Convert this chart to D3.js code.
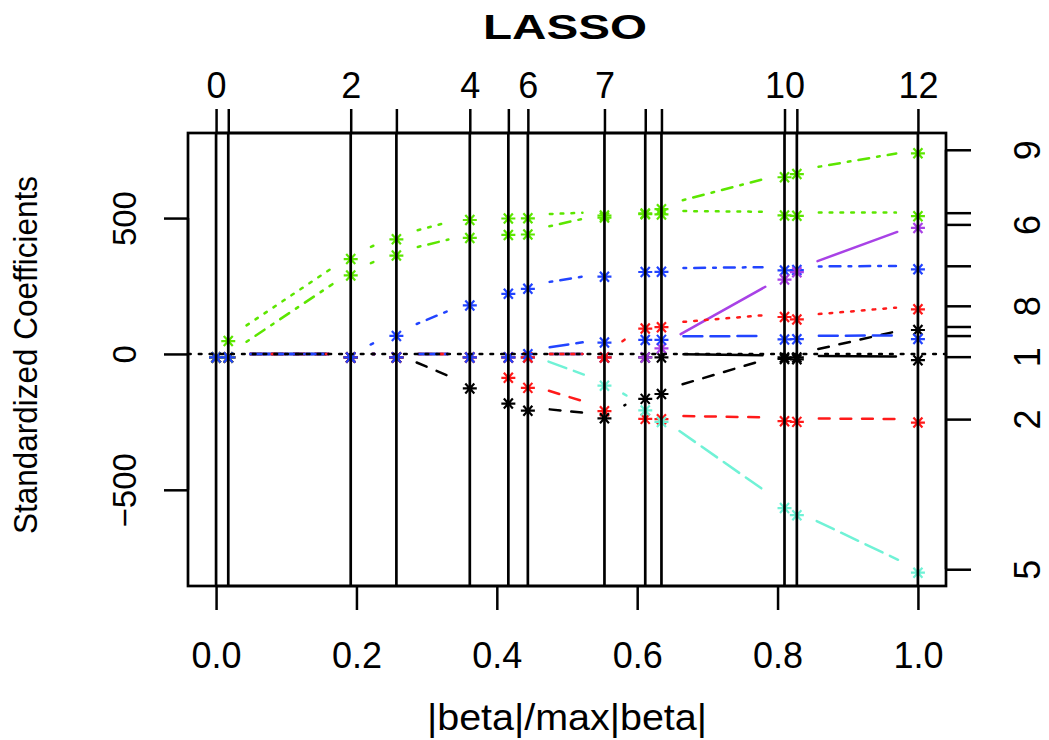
<!DOCTYPE html>
<html>
<head>
<meta charset="utf-8">
<script src="https://cdn.jsdelivr.net/npm/d3@7"></script>
<style>
  body { margin: 0; background: #fff; }
  text { font-family: "Liberation Sans", Arial, sans-serif; fill: #000; }
</style>
</head>
<body>
<svg id="chart" width="1049" height="740"></svg>
<script>
// lasso path, one array per variable (coefficient at each step)
const varNames = ["age", "sex", "bmi", "map", "tc", "ldl", "hdl", "tch", "ltg", "glu"];
const age = [0, 0, 0, 0, 0, 0, 0, 0, 0, 0, -5.7, -7.0, -10.0];
const sex = [0, 0, 0, 0, 0, -74.9, -112.0, -197.8, -226.1, -227.2, -234.4, -237.1, -239.8];
const bmi = [0, 60.1, 361.9, 434.8, 505.7, 511.3, 512.0, 522.3, 526.9, 526.4, 522.6, 521.1, 519.8];
const mapBp = [0, 0, 0, 79.2, 191.3, 234.2, 252.5, 297.2, 314.4, 315.0, 320.3, 321.5, 324.4];
const tc  = [0, 0, 0, 0, 0, 0, 0, -103.9, -195.1, -237.3, -554.3, -580.4, -792.2];
const ldl = [0, 0, 0, 0, 0, 0, 0, 0, 0, 33.6, 286.7, 313.9, 476.7];
const hdl = [0, 0, 0, 0, -114.1, -169.7, -196.0, -223.9, -152.5, -134.6, 0, 0, 101.0];
const tch = [0, 0, 0, 0, 0, 0, 0, 0, 106.3, 111.4, 148.9, 139.9, 177.1];
const ltg = [0, 0, 301.8, 374.9, 439.7, 450.7, 452.4, 514.7, 529.9, 545.5, 663.0, 674.9, 751.3];
const glu = [0, 0, 0, 0, 0, 0, 12.1, 54.8, 64.5, 64.6, 66.3, 67.2, 67.6];
const coefs = [age, sex, bmi, mapBp, tc, ldl, hdl, tch, ltg, glu];

// top axis: step labels (R drops the ones that would overlap)
const topLabels = ["0", "", "2", "", "4", "", "6", "7", "", "", "10", "", "12"];
// right axis: variable numbers shown at the final coefficients
const rightLabels = ["1", "2", "", "", "5", "6", "", "8", "9", ""];
const xTicks = [0, 0.2, 0.4, 0.6, 0.8, 1.0];
const yTicks = [-500, 0, 500];

// |beta| / max|beta| for every step
const l1 = d3.range(age.length).map(i => d3.sum(coefs, c => Math.abs(c[i])));
const s = l1.map(v => v / l1[l1.length - 1]);

const svg = d3.select("#chart");
const plotL = 188, plotR = 946, plotT = 133, plotB = 586;

// R style 4% padding
const xr = d3.extent(s), yr = [d3.min(coefs, c => d3.min(c)), d3.max(coefs, c => d3.max(c))];
const xpad = (xr[1] - xr[0]) * 0.04, ypad = (yr[1] - yr[0]) * 0.04;
const x = d3.scaleLinear().domain([xr[0] - xpad, xr[1] + xpad]).range([plotL, plotR]);
const y = d3.scaleLinear().domain([yr[0] - ypad, yr[1] + ypad]).range([plotB, plotT]);

const palette = ["#000000", "#ff1a1a", "#5ce600", "#2244ff", "#70f2d6", "#a842e6"];
const u = 2.7; // dash unit
const ltys = [null, [4, 4], [1, 3], [1, 3, 4, 3], [7, 3]];

// round caps eat into the gaps, like the R device does
function dashes(lty, w) {
    if (!lty) return null;
    return lty.map((v, i) => i % 2 === 0 ? Math.max(v * u - w, 0.01) : v * u + w).join(" ");
}

const plot = svg.append("g");
const gap = 22;
const lw = 2.5;

coefs.forEach((c, j) => {
    const col = palette[j % 6];
    const lty = ltys[j % 5];
    const g = plot.append("g");
    // type = "b": segments are cut back near every point
    for (let i = 1; i < c.length; i++) {
        const x0 = x(s[i - 1]), y0 = y(c[i - 1]), x1 = x(s[i]), y1 = y(c[i]);
        const len = Math.hypot(x1 - x0, y1 - y0);
        if (len <= 2 * gap) continue;
        const dx = gap * (x1 - x0) / len, dy = gap * (y1 - y0) / len;
        g.append("line")
            .attr("x1", x0 + dx).attr("y1", y0 + dy)
            .attr("x2", x1 - dx).attr("y2", y1 - dy)
            .attr("stroke", col)
            .attr("stroke-width", lw)
            .attr("stroke-linecap", "round")
            .attr("stroke-dasharray", dashes(lty, 0));
    }
    g.selectAll("path")
        .data(c)
        .enter()
        .append("path")
        .attr("transform", (d, i) => `translate(${x(s[i])},${y(d) + 3.5})`)
        .attr("d", "M-7,0H7M-4.5,-5L4.5,5M4.5,-5L-4.5,5")
        .attr("stroke", col)
        .attr("stroke-width", 2.2)
        .attr("fill", "none");
});

// zero line
plot.append("line")
    .attr("x1", plotL).attr("x2", plotR)
    .attr("y1", y(0)).attr("y2", y(0))
    .attr("stroke", "#000")
    .attr("stroke-width", lw)
    .attr("stroke-linecap", "round")
    .attr("stroke-dasharray", dashes([1, 3], 0));

// axes
function rAxis(axis, sel, first, last, vertical) {
    sel.call(axis);
    sel.select(".domain").remove();
    sel.selectAll(".tick line").attr("stroke", "#000").attr("stroke-width", 2.5);
    sel.append("line")
        .attr(vertical ? "y1" : "x1", first)
        .attr(vertical ? "y2" : "x2", last)
        .attr("stroke", "#000")
        .attr("stroke-width", 2.5);
    sel.attr("font-family", null).attr("font-size", null);
}

const gBottom = svg.append("g").attr("transform", `translate(0,${plotB})`);
rAxis(d3.axisBottom(x).tickValues(xTicks).tickSize(24).tickFormat(d3.format(".1f")),
    gBottom, x(0), x(1), false);
gBottom.selectAll(".tick text").attr("y", 82).attr("dy", null).attr("font-size", 36);

const gTop = svg.append("g").attr("transform", `translate(0,${plotT})`);
rAxis(d3.axisTop(x).tickValues(s).tickSize(24).tickFormat((d, i) => topLabels[i]),
    gTop, x(s[0]), x(s[s.length - 1]), false);
gTop.selectAll(".tick text").attr("y", -35).attr("dy", null).attr("font-size", 36);

const gLeft = svg.append("g").attr("transform", `translate(${plotL},0)`);
rAxis(d3.axisLeft(y).tickValues(yTicks).tickSize(24),
    gLeft, y(yTicks[0]), y(yTicks[yTicks.length - 1]), true);
gLeft.selectAll(".tick text")
    .attr("x", null).attr("dy", null)
    .attr("text-anchor", "middle")
    .attr("transform", "translate(-52,0) rotate(-90)")
    .attr("font-size", 33);

const finals = coefs.map(c => c[c.length - 1]);
const gRight = svg.append("g").attr("transform", `translate(${plotR},0)`);
rAxis(d3.axisRight(y).tickValues(finals).tickSize(25).tickFormat((d, i) => rightLabels[i]),
    gRight, y(d3.min(finals)), y(d3.max(finals)), true);
gRight.selectAll(".tick text")
    .attr("x", null).attr("dy", null)
    .attr("text-anchor", "middle")
    .attr("transform", "translate(94,0) rotate(-90)")
    .attr("font-size", 36);

// step lines
svg.append("g")
    .selectAll("line")
    .data(s)
    .enter()
    .append("line")
    .attr("x1", d => x(d)).attr("x2", d => x(d))
    .attr("y1", plotT).attr("y2", plotB)
    .attr("stroke", "#000")
    .attr("stroke-width", 2.7);

// box
svg.append("rect")
    .attr("x", plotL).attr("y", plotT)
    .attr("width", plotR - plotL).attr("height", plotB - plotT)
    .attr("fill", "none")
    .attr("stroke", "#000")
    .attr("stroke-width", 2.7);

// titles
svg.append("text")
    .attr("x", 565).attr("y", 39)
    .attr("text-anchor", "middle")
    .attr("font-size", 35).attr("font-weight", "bold")
    .attr("textLength", 164).attr("lengthAdjust", "spacingAndGlyphs")
    .text("LASSO");

svg.append("text")
    .attr("x", 567).attr("y", 730)
    .attr("text-anchor", "middle")
    .attr("font-size", 37)
    .attr("textLength", 280).attr("lengthAdjust", "spacingAndGlyphs")
    .text("|beta|/max|beta|");

svg.append("text")
    .attr("transform", "translate(37,355) rotate(-90)")
    .attr("text-anchor", "middle")
    .attr("font-size", 33)
    .attr("textLength", 358).attr("lengthAdjust", "spacingAndGlyphs")
    .text("Standardized Coefficients");
</script>
</body>
</html>
